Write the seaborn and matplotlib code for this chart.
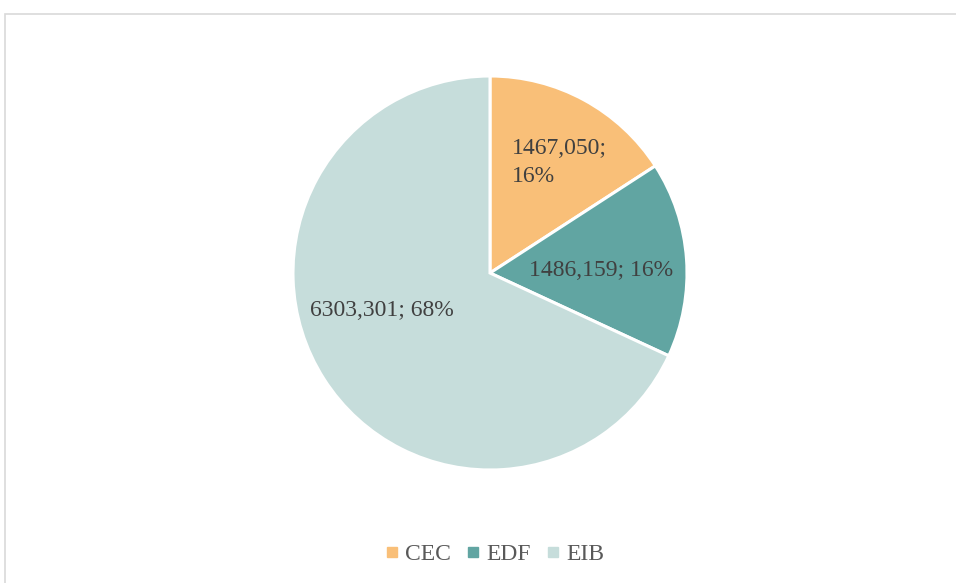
import matplotlib
matplotlib.use("Agg")
import matplotlib.pyplot as plt
import seaborn as sns
from matplotlib.patches import Rectangle
from matplotlib.lines import Line2D

sns.set_theme(style="white")
plt.rcParams['font.family'] = ['Liberation Serif', 'DejaVu Serif']

categories = ["CEC", "EDF", "EIB"]
values = [1467.050, 1486.159, 6303.301]
value_labels = ["1467,050;\n16%", "1486,159; 16%", "6303,301; 68%"]
colors = ["#F9BF78", "#61A5A2", "#C6DDDB"]

W, H = 956, 583
fig = plt.figure(figsize=(W / 100, H / 100), dpi=100)
fig.patch.set_facecolor("white")

# chart area border
fig.patches.append(Rectangle((5 / W, -0.01), 1.0, (H - 14) / H + 0.01,
                             transform=fig.transFigure, fill=False,
                             edgecolor="#D9D9D9", linewidth=1.2))

R = 197
cx, cy = 490, H - 273
ax = fig.add_axes([(cx - R) / W, (cy - R) / H, 2 * R / W, 2 * R / H])
wedges, _ = ax.pie(values, colors=colors, startangle=90, counterclock=False,
                   radius=1.0, wedgeprops=dict(edgecolor="white", linewidth=2.2))
ax.set_xlim(-1, 1)
ax.set_ylim(-1, 1)
ax.set_aspect("equal")
ax.axis("off")

# label anchors (fraction of radius) as placed in the reference
label_pos = [(0.112, 0.56, "left"), (0.565, 0.015, "center"), (-0.55, -0.19, "center")]
for (lx, ly, ha), txt in zip(label_pos, value_labels):
    ax.text(lx, ly, txt, ha=ha, va="center", fontsize=17,
            color="#404040", linespacing=1.45)

handles = [Line2D([0], [0], marker="s", linestyle="", markersize=7,
                  markerfacecolor=c, markeredgecolor=c) for c in colors]
fig.legend(handles, categories, loc="center", bbox_to_anchor=(492 / W, 1 - 554 / H),
           ncol=3, frameon=False, fontsize=17, handletextpad=0.05,
           columnspacing=0.45, labelcolor="#595959", handlelength=1.0)

fig.savefig("out.png", dpi=100)
